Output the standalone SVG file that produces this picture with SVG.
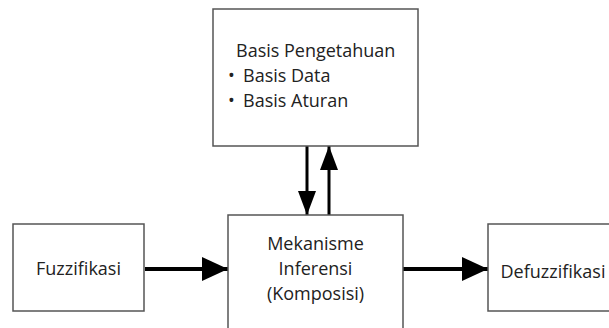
<svg xmlns="http://www.w3.org/2000/svg" width="609" height="328" viewBox="0 0 609 328">
<defs>
<style>
.box{fill:#fff;stroke:#555;stroke-width:1.5}
.t{font-family:"Open Sans","DejaVu Sans",sans-serif;font-size:18px;fill:#222}
.c{text-anchor:middle}
.thick{stroke:#000;stroke-width:4;fill:none}
.thin{stroke:#000;stroke-width:3;fill:none}
</style>
<marker id="bigHead" markerUnits="userSpaceOnUse" markerWidth="28" markerHeight="26" refX="26" refY="12" orient="auto">
<path d="M0,0 L26,12 L0,24 Z" fill="#000"/>
</marker>
<marker id="smallHead" markerUnits="userSpaceOnUse" markerWidth="26" markerHeight="20" refX="24" refY="9" orient="auto">
<path d="M0,0 L24,9 L0,18 Z" fill="#000"/>
</marker>
</defs>
<rect width="609" height="328" fill="#fff"/>
<g id="connectors">
<line class="thick" x1="145" y1="269" x2="228" y2="269" marker-end="url(#bigHead)"/>
<line class="thick" x1="403" y1="269" x2="488" y2="269" marker-end="url(#bigHead)"/>
<line class="thin" x1="307" y1="146" x2="307" y2="215" marker-end="url(#smallHead)"/>
<line class="thin" x1="329" y1="215" x2="329" y2="146" marker-end="url(#smallHead)"/>
</g>
<g id="basis-pengetahuan">
<rect class="box" x="213" y="9" width="205" height="137"/>
<text class="t" x="236" y="57">Basis Pengetahuan</text>
<text class="t" x="228" y="82">•<tspan x="243">Basis Data</tspan></text>
<text class="t" x="228" y="107">•<tspan x="243">Basis Aturan</tspan></text>
</g>
<g id="fuzzifikasi">
<rect class="box" x="13" y="224" width="131" height="87"/>
<text class="t c" x="78.5" y="275">Fuzzifikasi</text>
</g>
<g id="mekanisme-inferensi">
<rect class="box" x="228" y="215" width="175" height="125"/>
<text class="t c" x="315.5" y="250">Mekanisme</text>
<text class="t c" x="315.5" y="275">Inferensi</text>
<text class="t c" x="315.5" y="300">(Komposisi)</text>
</g>
<g id="defuzzifikasi">
<rect class="box" x="488" y="224" width="131" height="87"/>
<text class="t c" x="553" y="278">Defuzzifikasi</text>
</g>
</svg>
